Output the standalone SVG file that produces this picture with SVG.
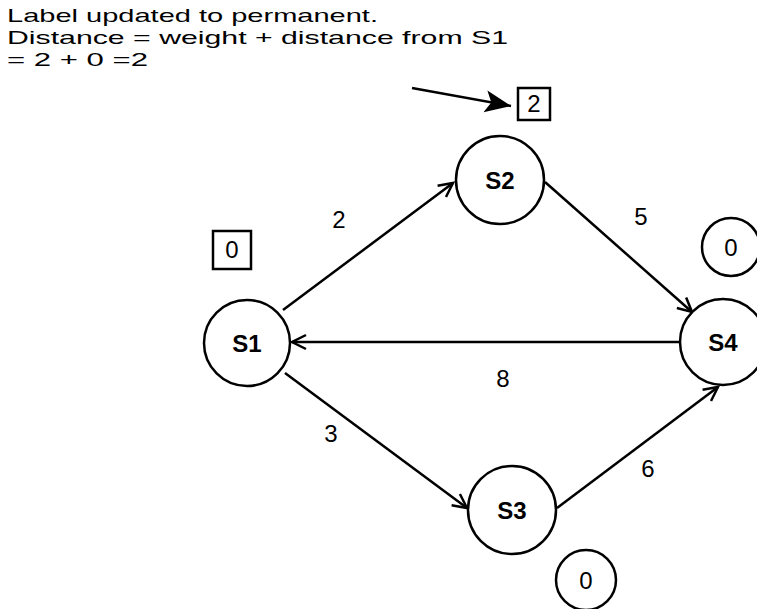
<svg xmlns="http://www.w3.org/2000/svg" width="757" height="609" viewBox="0 0 757 609">
<style>
.bg{fill:#fff}
.node{fill:#fff;stroke:#000;stroke-width:2.5}
.edge{fill:none;stroke:#000;stroke-width:2.5}
.lbl{font-family:"Liberation Sans",Arial,sans-serif;font-size:24px;font-weight:bold;fill:#000;text-anchor:middle}
.num{font-family:"Liberation Sans",Arial,sans-serif;font-size:24px;fill:#000;text-anchor:middle}
.note{font-family:"Liberation Sans",Arial,sans-serif;font-size:19px;fill:#000}
</style>
<defs>
<marker id="open" markerWidth="20" markerHeight="20" refX="16" refY="8" orient="auto" markerUnits="userSpaceOnUse" viewBox="0 0 20 16">
<path d="M2,1 L16,8 L2,15" fill="none" stroke="#000" stroke-width="2.5"/>
</marker>
<marker id="solid" markerWidth="28" markerHeight="24" refX="26" refY="12" orient="auto" markerUnits="userSpaceOnUse" viewBox="0 0 28 24">
<path d="M0,1 L26,12 L0,23 L6,12 Z" fill="#000"/>
</marker>
</defs>
<rect class="bg" x="0" y="0" width="757" height="609"/>
<g id="note">
<text class="note" x="7" y="22" textLength="371" lengthAdjust="spacingAndGlyphs">Label updated to permanent.</text>
<text class="note" x="7" y="44" textLength="501" lengthAdjust="spacingAndGlyphs">Distance = weight + distance from S1</text>
<text class="note" x="7" y="66" textLength="141" lengthAdjust="spacingAndGlyphs">= 2 + 0 =2</text>
</g>
<g id="connectors">
<line class="edge" x1="283" y1="310" x2="453" y2="183" marker-end="url(#open)"/>
<line class="edge" x1="545" y1="182" x2="692" y2="312" marker-end="url(#open)"/>
<line class="edge" x1="679" y1="342" x2="292" y2="342" marker-end="url(#open)"/>
<line class="edge" x1="285" y1="373" x2="467" y2="508" marker-end="url(#open)"/>
<line class="edge" x1="557" y1="508" x2="718" y2="387" marker-end="url(#open)"/>
<line class="edge" x1="412" y1="88" x2="511" y2="106" stroke-width="3" marker-end="url(#solid)"/>
</g>
<g id="edge-labels">
<text class="num" x="339" y="228">2</text>
<text class="num" x="641" y="225">5</text>
<text class="num" x="503" y="387">8</text>
<text class="num" x="331" y="442">3</text>
<text class="num" x="648" y="477">6</text>
</g>
<g id="S1"><circle class="node" cx="247" cy="343" r="43"/><text class="lbl" x="247" y="352">S1</text></g>
<g id="S2"><circle class="node" cx="500" cy="180" r="44"/><text class="lbl" x="500" y="189">S2</text></g>
<g id="S3"><circle class="node" cx="512" cy="510" r="44"/><text class="lbl" x="512" y="519">S3</text></g>
<g id="S4"><circle class="node" cx="723" cy="342" r="43"/><text class="lbl" x="723" y="351">S4</text></g>
<g id="dist-S1"><rect x="213" y="231" width="38" height="38" fill="#fff" stroke="#000" stroke-width="2.5"/><text class="num" x="232" y="258">0</text></g>
<g id="dist-S2"><rect x="518" y="88" width="32" height="32" fill="#fff" stroke="#000" stroke-width="2.5"/><text class="num" x="534" y="112">2</text></g>
<g id="dist-S4"><circle class="node" cx="731" cy="247" r="29"/><text class="num" x="731" y="256">0</text></g>
<g id="dist-S3"><circle class="node" cx="586" cy="580" r="30"/><text class="num" x="586" y="589">0</text></g>
</svg>
